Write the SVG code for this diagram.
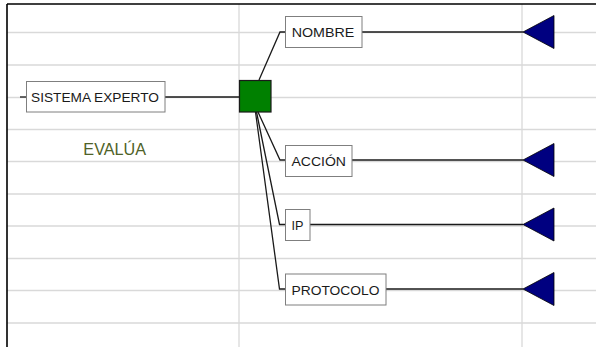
<svg xmlns="http://www.w3.org/2000/svg" width="596" height="347" viewBox="0 0 596 347">
<style>
.grid{stroke:#d9d9d9;stroke-width:1.3;fill:none}
.box{fill:#ffffff;stroke:#7f7f7f;stroke-width:1}
.lbl{font-family:"Liberation Sans",Arial,sans-serif;font-size:13.5px;fill:#1a1a1a}
.con{stroke:#1a1a1a;stroke-width:1.3;fill:none}
.tri{fill:#000080;stroke:#000000;stroke-width:0.8}
</style>
<rect x="0" y="0" width="596" height="347" fill="#ffffff"/>
<g id="grid">
<path class="grid" d="M7 32.5H596M7 65H596M7 97.5H596M7 129.5H596M7 161.5H596M7 194H596M7 226H596M7 258.5H596M7 290.5H596M7 323H596M239 4V347M522 4V347"/>
<path d="M7 4H596M7 4V347" stroke="#000000" stroke-width="1.6" fill="none"/>
</g>
<g id="connectors">
<path class="con" d="M20 97H26"/>
<path class="con" d="M165 97H239"/>
<path class="con" d="M259 80L280 32H285"/>
<path class="con" d="M258 112L280 160H285"/>
<path class="con" d="M256.5 112L279.5 224.5H285"/>
<path class="con" d="M255.5 112L279.5 289H285"/>
<path class="con" d="M362 32H523"/>
<path class="con" d="M352 160H523"/>
<path class="con" d="M310 224.5H523"/>
<path class="con" d="M386 289H523"/>
</g>
<g id="sistema">
<rect class="box" x="26.5" y="81.5" width="138.5" height="30.5"/>
<text class="lbl" x="31" y="102" textLength="128" lengthAdjust="spacingAndGlyphs">SISTEMA EXPERTO</text>
</g>
<g id="evalua">
<text x="114.7" y="155" text-anchor="middle" font-family="'Liberation Sans',Arial,sans-serif" font-size="17px" fill="#4f6228" textLength="62.7" lengthAdjust="spacingAndGlyphs">EVALÚA</text>
</g>
<g id="hub">
<rect x="239.5" y="80.5" width="31.5" height="31.5" fill="#008000" stroke="#1a1a1a" stroke-width="1.2"/>
</g>
<g id="nombre">
<rect class="box" x="285.5" y="16.5" width="76.5" height="31"/>
<text class="lbl" x="291.7" y="37" textLength="62.6" lengthAdjust="spacingAndGlyphs">NOMBRE</text>
</g>
<g id="accion">
<rect class="box" x="285.5" y="145.5" width="66.5" height="31"/>
<text class="lbl" x="291.5" y="166" textLength="54.5" lengthAdjust="spacingAndGlyphs">ACCIÓN</text>
</g>
<g id="ip">
<rect class="box" x="285.5" y="209.5" width="24.5" height="31"/>
<text class="lbl" x="291.5" y="230" textLength="12" lengthAdjust="spacingAndGlyphs">IP</text>
</g>
<g id="protocolo">
<rect class="box" x="285.5" y="274" width="100.5" height="31"/>
<text class="lbl" x="291.5" y="294.5" textLength="88" lengthAdjust="spacingAndGlyphs">PROTOCOLO</text>
</g>
<g id="tri-nombre"><polygon class="tri" points="523,32 554,15.5 554,48.5"/></g>
<g id="tri-accion"><polygon class="tri" points="523,160 554,143.5 554,176.5"/></g>
<g id="tri-ip"><polygon class="tri" points="523,224.5 554,208 554,241"/></g>
<g id="tri-protocolo"><polygon class="tri" points="523,289 554,272.5 554,305.5"/></g>
</svg>
